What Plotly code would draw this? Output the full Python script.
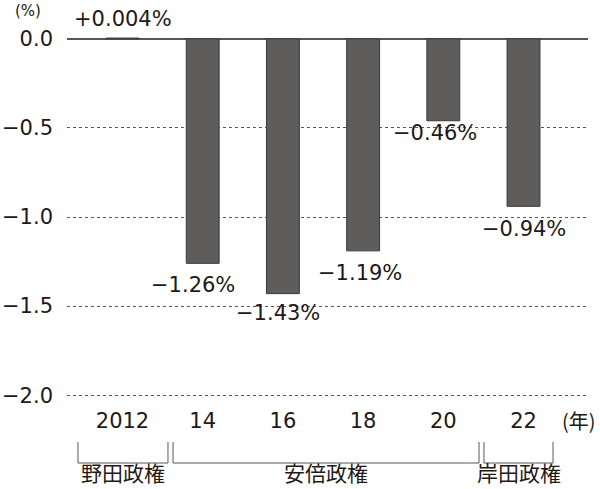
import plotly.graph_objects as go

# ---- data ----
years = ["2012", "14", "16", "18", "20", "22"]
values = [0.004, -1.26, -1.43, -1.19, -0.46, -0.94]
value_labels = ["+0.004%", "−1.26%", "−1.43%", "−1.19%", "−0.46%", "−0.94%"]
y_ticks = [0.0, -0.5, -1.0, -1.5, -2.0]
y_tick_text = ["0.0", "−0.5", "−1.0", "−1.5", "−2.0"]
eras = ["野田政権", "安倍政権", "岸田政権"]

# ---- layout helpers (positions kept separate from data) ----
x_pos = list(range(len(years)))
label_dx = [0, -9.5, -5, -3.5, -8, 0.5]     # pixel shifts of value labels
label_dy = [19, -21.5, -19, -22, -12, -23]
era_spans = [(-0.555, 0.567), (0.630, 4.445), (4.507, 5.368)]

NUMFONT = "DejaVu Sans, Noto Sans CJK JP"
CJKFONT = "Noto Sans CJK JP"
TXT = "#231815"
LINE = "#595555"

fig = go.Figure()
fig.add_trace(go.Bar(
    x=x_pos, y=values, width=0.41,
    marker=dict(color="#5f5c5c", line=dict(color="#3b3838", width=1)),
    hoverinfo="skip",
))

for i, (v, t) in enumerate(zip(values, value_labels)):
    fig.add_annotation(x=x_pos[i], y=v, text=t, showarrow=False,
                       xshift=label_dx[i], yshift=label_dy[i],
                       font=dict(family=NUMFONT, size=21, color=TXT),
                       xanchor="center", yanchor="middle")

# brackets and era names
plot_top, plot_bot = 37, 397
ph = plot_bot - plot_top
def py(p):
    return (plot_bot - p) / ph

for (x0, x1), name in zip(era_spans, eras):
    fig.add_shape(type="path", xref="x", yref="paper",
                  path=f"M {x0},{py(442)} L {x0},{py(463)} L {x1},{py(463)} L {x1},{py(442)}",
                  line=dict(color=LINE, width=1))
    fig.add_annotation(x=(x0 + x1) / 2, y=py(489), xref="x", yref="paper",
                       text=name, showarrow=False,
                       font=dict(family=CJKFONT, size=21, color=TXT),
                       xanchor="center", yanchor="bottom")

fig.add_annotation(x=(28 - 67) / 521, y=py(11), xref="paper", yref="paper",
                   text="(%)", showarrow=False,
                   font=dict(family=NUMFONT, size=15, color=TXT),
                   xanchor="center", yanchor="middle")
fig.add_annotation(x=(579 - 67) / 521, y=py(420), xref="paper", yref="paper",
                   text="(年)", showarrow=False,
                   font=dict(family=CJKFONT, size=20, color=TXT),
                   xanchor="center", yanchor="middle")

fig.update_layout(
    width=600, height=489,
    margin=dict(l=67, r=12, t=plot_top, b=489 - plot_bot),
    paper_bgcolor="white", plot_bgcolor="white",
    showlegend=False,
    font=dict(family=NUMFONT, size=21, color=TXT),
    xaxis=dict(range=[-0.692, 5.804], tickvals=x_pos, ticktext=years,
               showgrid=False, zeroline=False, showline=False, ticks="",
               automargin=False,
               ticklabelstandoff=9, tickfont=dict(family=NUMFONT, size=21, color=TXT)),
    yaxis=dict(range=[-2.01, 0.01], tickvals=y_ticks, ticktext=y_tick_text,
               showgrid=True, gridcolor="#5a5656", gridwidth=1, griddash="3px,3px",
               zeroline=True, zerolinecolor=LINE, zerolinewidth=1.6,
               showline=False, ticks="", ticklabelstandoff=13, automargin=False,
               tickfont=dict(family=NUMFONT, size=21, color=TXT)),
)

fig.write_html("out.html")
